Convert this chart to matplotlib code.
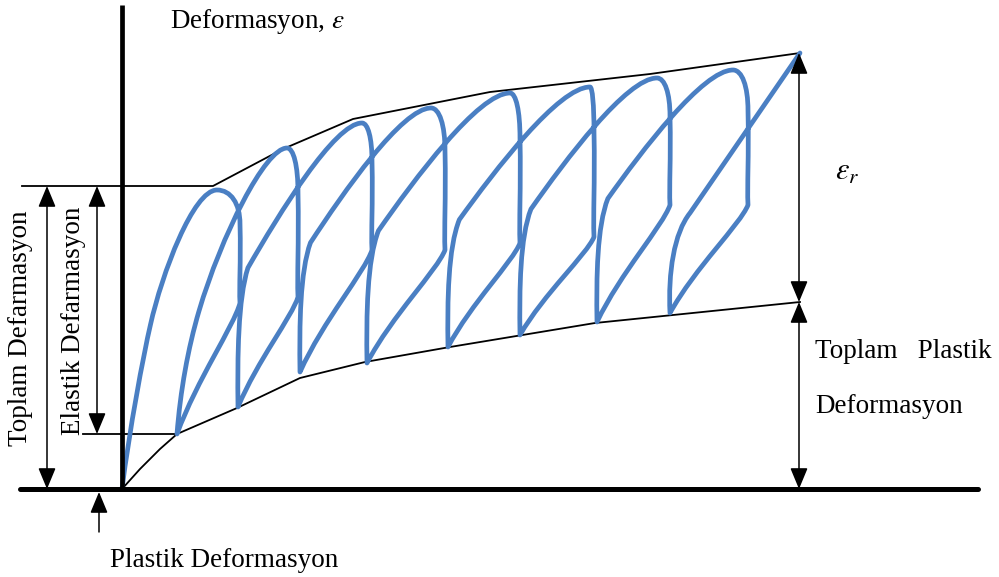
import numpy as np
import matplotlib.pyplot as plt
from matplotlib.path import Path
from matplotlib.patches import PathPatch

plt.rcParams['font.family'] = ['Liberation Serif', 'DejaVu Serif']
plt.rcParams['mathtext.fontset'] = 'stix'

# schematic drawn in picture coordinates (x right, y down)
valley_x = [122, 177, 238, 300, 367, 448, 520, 597, 670]
valley_y = [489, 434, 407, 372, 363, 347, 335, 322, 313]
peak_x = [217, 287, 362, 431, 510, 590, 657, 733]
peak_y = [190, 148, 123, 108, 93, 87, 78, 70]
knee_x = [240, 298, 372, 445, 520, 594, 670, 748]
knee_y = [303, 297, 250, 250, 243, 237, 205, 205]
end_x, end_y = 800, 53

upper_x = [22, 213, 283, 353, 490, 650, 800]
upper_y = [186, 186, 149, 119, 92, 74, 53]
lower_x = [122, 140, 160, 177, 237, 300, 365, 450, 595, 800]
lower_y = [489, 469, 449, 434, 408, 378, 362, 347, 323, 302]

blue = '#4a7fc3'

# loading-curve shapes in units of (dx, dy) from valley to peak
shape_first = [(0.08, 0.20), (0.22, 0.44), (0.30, 0.55), (0.42, 0.72), (0.75, 1.0)]
shape_second = [(0.03, 0.15), (0.10, 0.30), (0.20, 0.43), (0.40, 0.69), (0.80, 1.0)]
shape_rest = [(-0.005, 0.18), (0.0, 0.38), (0.08, 0.49), (0.33, 0.68), (0.78, 1.0)]

fig = plt.figure(figsize=(9.99, 5.77), dpi=100)
ax = fig.add_axes([0, 0, 1, 1])
ax.set_xlim(0, 999)
ax.set_ylim(577, 0)
ax.axis('off')

# hysteresis loops as one continuous stroke
verts = [(valley_x[0], valley_y[0])]
codes = [Path.MOVETO]
for i in range(len(peak_x)):
    vx, vy = valley_x[i], valley_y[i]
    px, py = peak_x[i], peak_y[i]
    kx, ky = knee_x[i], knee_y[i]
    nx, ny = valley_x[i + 1], valley_y[i + 1]
    dx, dy = px - vx, vy - py
    shp = shape_first if i == 0 else shape_second if i == 1 else shape_rest
    for u, w in shp:
        verts.append((vx + u * dx, vy - w * dy))
    verts.append((px, py))
    codes += [Path.CURVE4] * 6
    h = ky - py
    verts += [(px + 0.6 * (kx - px), py), (kx, py + 0.12 * h), (kx, py + 0.3 * h)]
    codes += [Path.CURVE4] * 3
    verts += [(kx + 1, py + 0.65 * h), (kx - 1, ky - 0.15 * h), (kx, ky)]
    codes += [Path.CURVE4] * 3
    verts += [(kx - 0.1 * (kx - nx), ky + 0.18 * (ny - ky)),
              (nx + 0.32 * (kx - nx), ny - 0.42 * (ny - ky)), (nx, ny)]
    codes += [Path.CURVE4] * 3
vx, vy = valley_x[-1], valley_y[-1]
verts += [(vx - 2, vy - 40), (vx + 4, vy - 80), (vx + 20, vy - 100), (end_x, end_y)]
codes += [Path.CURVE4] * 3 + [Path.LINETO]
ax.add_patch(PathPatch(Path(verts, codes), fill=False, edgecolor=blue, lw=3.4,
                       capstyle='round', joinstyle='round', zorder=3))

# envelopes and reference lines
ax.plot(upper_x, upper_y, color='k', lw=1.3)
ax.plot(lower_x, lower_y, color='k', lw=1.3)
ax.plot([83, 177], [434, 434], color='k', lw=1.3)

# axes
ax.plot([20, 978], [489, 489], color='k', lw=3.6, solid_capstyle='round', zorder=4)
ax.plot([122, 122], [5, 489], color='k', lw=3.4, solid_capstyle='butt', zorder=4)


def arrow(x, y0, y1, style='<|-|>'):
    ax.annotate('', xy=(x, y1), xytext=(x, y0),
                arrowprops=dict(arrowstyle=style + ',head_length=0.65,head_width=0.27',
                                mutation_scale=20, lw=1.1, color='k',
                                shrinkA=0, shrinkB=0))


arrow(47, 186, 489)
arrow(97, 186, 434)
arrow(799, 53, 302)
arrow(799, 302, 489)
arrow(99, 532, 492, style='-|>')

fs = 19.5
ax.text(170, 28, r'Deformasyon, $\varepsilon$', fontsize=fs, va='baseline')
ax.text(110, 567, 'Plastik Deformasyon', fontsize=fs, va='baseline')
ax.text(815, 358, 'Toplam   Plastik', fontsize=fs, va='baseline')
ax.text(815, 413, 'Deformasyon', fontsize=fs, va='baseline')
ax.text(21, 328, 'Toplam Defarmasyon', fontsize=fs, rotation=90, ha='center', va='center')
ax.text(73, 321, 'Elastik Defarmasyon', fontsize=fs, rotation=90, ha='center', va='center')
ax.text(835, 180, r'$\varepsilon_r$', fontsize=22, va='baseline')

fig.savefig('out.png', dpi=100)
